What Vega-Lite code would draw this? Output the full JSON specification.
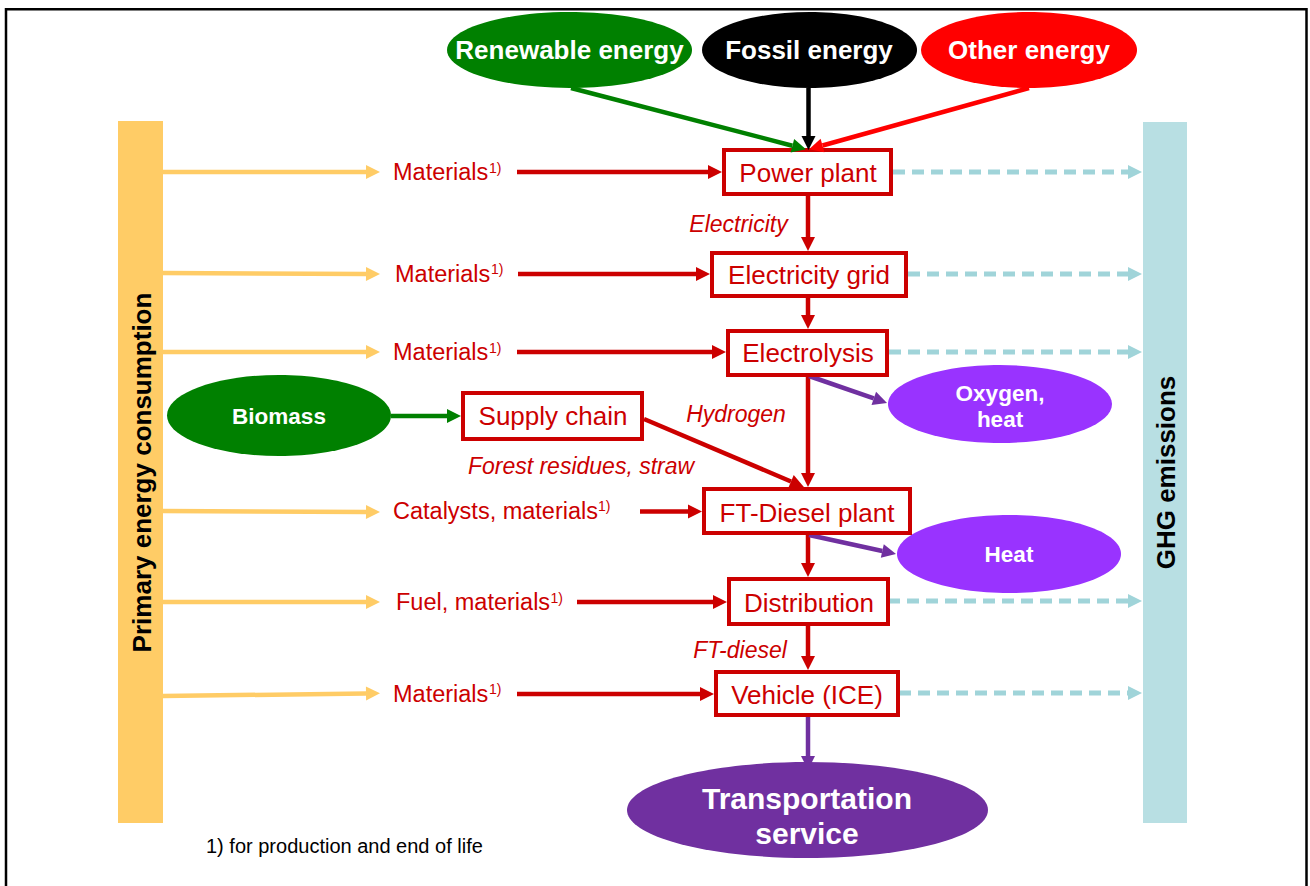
{
  "$schema": "https://vega.github.io/schema/vega-lite/v6.json",
  "width": 1310,
  "height": 886,
  "autosize": {"type": "none"},
  "padding": 0,
  "background": "white",
  "config": {"view": {"stroke": null}, "text": {"font": "Liberation Sans"}},
  "datasets": {
    "bars": [
      {"kind": "input", "x": 118, "x2": 163, "y": 121, "y2": 823},
      {"kind": "ghgbar", "x": 1143, "x2": 1187, "y": 122, "y2": 823}
    ],
    "frame": [{"x": 6, "x2": 1306.5, "y": 9.3, "y2": 900}],
    "edges": [
      {"kind": "renew", "x": 571, "y": 88, "x2": 792.4, "y2": 145.7},
      {"kind": "fossil", "x": 808.5, "y": 88, "x2": 808.5, "y2": 136},
      {"kind": "other", "x": 1029, "y": 88, "x2": 822.5, "y2": 145.5},
      {"kind": "input", "x": 163, "y": 172, "x2": 366, "y2": 172},
      {"kind": "input", "x": 163, "y": 273, "x2": 366, "y2": 274},
      {"kind": "input", "x": 163, "y": 352, "x2": 366, "y2": 352},
      {"kind": "input", "x": 163, "y": 511, "x2": 366, "y2": 512},
      {"kind": "input", "x": 163, "y": 602, "x2": 366, "y2": 602},
      {"kind": "input", "x": 163, "y": 696, "x2": 366, "y2": 693.5},
      {"kind": "flow", "x": 517, "y": 172, "x2": 708, "y2": 172},
      {"kind": "flow", "x": 518, "y": 274, "x2": 696, "y2": 274},
      {"kind": "flow", "x": 517, "y": 352, "x2": 712, "y2": 352},
      {"kind": "flow", "x": 640, "y": 511.5, "x2": 688, "y2": 511.5},
      {"kind": "flow", "x": 577, "y": 602, "x2": 713, "y2": 602},
      {"kind": "flow", "x": 517, "y": 694, "x2": 700, "y2": 694},
      {"kind": "flow", "x": 808, "y": 196, "x2": 808, "y2": 237},
      {"kind": "flow", "x": 808, "y": 298, "x2": 808, "y2": 315},
      {"kind": "flow", "x": 808, "y": 377, "x2": 808, "y2": 473},
      {"kind": "flow", "x": 808, "y": 535, "x2": 808, "y2": 563},
      {"kind": "flow", "x": 808, "y": 626, "x2": 808, "y2": 656},
      {"kind": "flow", "x": 644, "y": 419, "x2": 791, "y2": 481.5},
      {"kind": "renew", "x": 391, "y": 416, "x2": 447, "y2": 416},
      {"kind": "product", "x": 809, "y": 376, "x2": 873.8, "y2": 398.4},
      {"kind": "product", "x": 809, "y": 535, "x2": 882.3, "y2": 551},
      {"kind": "product", "x": 808, "y": 717, "x2": 808, "y2": 756},
      {"kind": "emission", "x": 893, "y": 172, "x2": 1128, "y2": 172},
      {"kind": "emission", "x": 908, "y": 274, "x2": 1128, "y2": 274},
      {"kind": "emission", "x": 889, "y": 352, "x2": 1128, "y2": 352},
      {"kind": "emission", "x": 888, "y": 601, "x2": 1128, "y2": 601},
      {"kind": "emission", "x": 899, "y": 693, "x2": 1128, "y2": 693}
    ],
    "nodes": [
      {"name": "Renewable energy", "kind": "renew", "x": 569.5, "y": 50},
      {"name": "Fossil energy", "kind": "fossil", "x": 809.5, "y": 50},
      {"name": "Other energy", "kind": "other", "x": 1029, "y": 50},
      {"name": "Biomass", "kind": "renew", "x": 279, "y": 415.5},
      {"name": "Oxygen, heat", "kind": "byproduct", "x": 1000, "y": 404},
      {"name": "Heat", "kind": "byproduct", "x": 1009, "y": 554},
      {"name": "Transportation service", "kind": "product", "x": 807.5, "y": 810}
    ],
    "boxes": [
      {"name": "Power plant", "x": 724, "x2": 891, "y": 150, "y2": 194},
      {"name": "Electricity grid", "x": 712, "x2": 906, "y": 253, "y2": 296},
      {"name": "Electrolysis", "x": 728, "x2": 887, "y": 331, "y2": 375},
      {"name": "Supply chain", "x": 463, "x2": 642, "y": 393, "y2": 439},
      {"name": "FT-Diesel plant", "x": 704, "x2": 910, "y": 489, "y2": 533},
      {"name": "Distribution", "x": 729, "x2": 888, "y": 579, "y2": 624},
      {"name": "Vehicle (ICE)", "x": 716, "x2": 898, "y": 672, "y2": 715}
    ],
    "labels": [
      {"role": "top", "text": "Renewable energy", "x": 569.5, "y": 51},
      {"role": "top", "text": "Fossil energy", "x": 809, "y": 51},
      {"role": "top", "text": "Other energy", "x": 1029, "y": 51},
      {"role": "node", "text": "Biomass", "x": 279, "y": 416.5},
      {"role": "node", "text": "Oxygen,", "x": 1000, "y": 393.5},
      {"role": "node", "text": "heat", "x": 1000, "y": 420},
      {"role": "node", "text": "Heat", "x": 1009, "y": 555},
      {"role": "service", "text": "Transportation", "x": 807, "y": 799.5},
      {"role": "service", "text": "service", "x": 807, "y": 835},
      {"role": "box", "text": "Power plant", "x": 808, "y": 174},
      {"role": "box", "text": "Electricity grid", "x": 809, "y": 276},
      {"role": "box", "text": "Electrolysis", "x": 808, "y": 354},
      {"role": "box", "text": "Supply chain", "x": 553, "y": 417},
      {"role": "box", "text": "FT-Diesel plant", "x": 807, "y": 514},
      {"role": "box", "text": "Distribution", "x": 809, "y": 604},
      {"role": "box", "text": "Vehicle (ICE)", "x": 807, "y": 695.5},
      {"role": "input", "text": "Materials", "x": 393, "y": 173},
      {"role": "input", "text": "Materials", "x": 395, "y": 275},
      {"role": "input", "text": "Materials", "x": 393, "y": 353},
      {"role": "input", "text": "Catalysts, materials", "x": 393, "y": 511.5},
      {"role": "input", "text": "Fuel, materials", "x": 396, "y": 603},
      {"role": "input", "text": "Materials", "x": 393, "y": 695},
      {"role": "sup", "text": "1)", "x": 489, "y": 168.6},
      {"role": "sup", "text": "1)", "x": 491, "y": 270.3},
      {"role": "sup", "text": "1)", "x": 489, "y": 348.6},
      {"role": "sup", "text": "1)", "x": 598, "y": 506.9},
      {"role": "sup", "text": "1)", "x": 550.5, "y": 598.6},
      {"role": "sup", "text": "1)", "x": 489, "y": 690.3},
      {"role": "flow", "text": "Electricity", "x": 738.5, "y": 225},
      {"role": "flow", "text": "Hydrogen", "x": 736, "y": 415},
      {"role": "flow", "text": "Forest residues, straw", "x": 581, "y": 466.5},
      {"role": "flow", "text": "FT-diesel", "x": 740, "y": 650.5},
      {"role": "side", "text": "Primary energy consumption", "x": 142.5, "y": 472.5},
      {"role": "side", "text": "GHG emissions", "x": 1166.5, "y": 472.5},
      {"role": "note", "text": "1) for production and end of life", "x": 206, "y": 847}
    ]
  },
  "encoding": {
    "x": {"field": "x", "type": "quantitative", "scale": {"domain": [0, 1310], "nice": false, "zero": false}, "axis": null},
    "y": {"field": "y", "type": "quantitative", "scale": {"domain": [0, 886], "nice": false, "zero": false, "reverse": true}, "axis": null}
  },
  "layer": [
    {
      "data": {"name": "bars"},
      "mark": {"type": "rect"},
      "encoding": {
        "x2": {"field": "x2"},
        "y2": {"field": "y2"},
        "color": {"field": "kind", "type": "nominal", "legend": null,
          "scale": {"domain": ["flow", "other", "renew", "fossil", "input", "emission", "product", "byproduct", "ghgbar"],
                    "range": ["#CC0000", "#FF0000", "#008000", "#000000", "#FFCC66", "#A0D4D9", "#7030A0", "#9933FF", "#B8DFE3"]}}
      }
    },
    {
      "data": {"name": "frame"},
      "mark": {"type": "rect", "fill": "transparent", "stroke": "black", "strokeWidth": 2.5},
      "encoding": {"x2": {"field": "x2"}, "y2": {"field": "y2"}}
    },
    {
      "data": {"name": "edges"},
      "transform": [{"filter": "datum.kind != 'emission'"}],
      "mark": {"type": "rule", "strokeWidth": 4.5, "strokeCap": "butt"},
      "encoding": {
        "x2": {"field": "x2"},
        "y2": {"field": "y2"},
        "color": {"field": "kind", "type": "nominal", "legend": null,
          "scale": {"domain": ["flow", "other", "renew", "fossil", "input", "emission", "product", "byproduct", "ghgbar"],
                    "range": ["#CC0000", "#FF0000", "#008000", "#000000", "#FFCC66", "#A0D4D9", "#7030A0", "#9933FF", "#B8DFE3"]}}
      }
    },
    {
      "data": {"name": "edges"},
      "transform": [{"filter": "datum.kind == 'emission'"}],
      "mark": {"type": "rule", "strokeWidth": 5, "strokeCap": "butt", "strokeDash": [12, 7]},
      "encoding": {
        "x2": {"field": "x2"},
        "y2": {"field": "y2"},
        "color": {"field": "kind", "type": "nominal", "legend": null,
          "scale": {"domain": ["flow", "other", "renew", "fossil", "input", "emission", "product", "byproduct", "ghgbar"],
                    "range": ["#CC0000", "#FF0000", "#008000", "#000000", "#FFCC66", "#A0D4D9", "#7030A0", "#9933FF", "#B8DFE3"]}}
      }
    },
    {
      "data": {"name": "nodes"},
      "mark": {"type": "point", "filled": true, "opacity": 1, "size": 4, "strokeWidth": 0},
      "encoding": {
        "shape": {"field": "name", "type": "nominal", "legend": null,
          "scale": {"domain": ["Renewable energy", "Fossil energy", "Other energy", "Biomass", "Oxygen, heat", "Heat", "Transportation service"],
                    "range": [
                      "M-122.5,0A122.5,38 0 1,1 122.5,0A122.5,38 0 1,1 -122.5,0Z",
                      "M-107.5,0A107.5,38 0 1,1 107.5,0A107.5,38 0 1,1 -107.5,0Z",
                      "M-108,0A108,38 0 1,1 108,0A108,38 0 1,1 -108,0Z",
                      "M-112,0A112,40.5 0 1,1 112,0A112,40.5 0 1,1 -112,0Z",
                      "M-112,0A112,39 0 1,1 112,0A112,39 0 1,1 -112,0Z",
                      "M-112,0A112,39 0 1,1 112,0A112,39 0 1,1 -112,0Z",
                      "M-180.5,0A180.5,48 0 1,1 180.5,0A180.5,48 0 1,1 -180.5,0Z"
                    ]}},
        "color": {"field": "kind", "type": "nominal", "legend": null,
          "scale": {"domain": ["flow", "other", "renew", "fossil", "input", "emission", "product", "byproduct", "ghgbar"],
                    "range": ["#CC0000", "#FF0000", "#008000", "#000000", "#FFCC66", "#A0D4D9", "#7030A0", "#9933FF", "#B8DFE3"]}}
      }
    },
    {
      "data": {"name": "boxes"},
      "mark": {"type": "rect", "fill": "white", "stroke": "#CC0000", "strokeWidth": 4},
      "encoding": {"x2": {"field": "x2"}, "y2": {"field": "y2"}}
    },
    {
      "data": {"name": "edges"},
      "transform": [{"calculate": "atan2(datum.x2 - datum.x, datum.y - datum.y2) * 180 / PI", "as": "ang"}],
      "mark": {"type": "point", "shape": "M0,-14L-7,0L7,0Z", "size": 4, "filled": true, "opacity": 1, "strokeWidth": 0},
      "encoding": {
        "x": {"field": "x2", "type": "quantitative", "scale": {"domain": [0, 1310], "nice": false, "zero": false}, "axis": null},
        "y": {"field": "y2", "type": "quantitative", "scale": {"domain": [0, 886], "nice": false, "zero": false, "reverse": true}, "axis": null},
        "angle": {"field": "ang", "type": "quantitative", "scale": null},
        "color": {"field": "kind", "type": "nominal", "legend": null,
          "scale": {"domain": ["flow", "other", "renew", "fossil", "input", "emission", "product", "byproduct", "ghgbar"],
                    "range": ["#CC0000", "#FF0000", "#008000", "#000000", "#FFCC66", "#A0D4D9", "#7030A0", "#9933FF", "#B8DFE3"]}}
      }
    },
    {
      "data": {"name": "labels"},
      "transform": [{"filter": "datum.role == 'top'"}],
      "mark": {"type": "text", "fill": "white", "fontWeight": "bold", "fontSize": 26, "align": "center", "baseline": "middle"},
      "encoding": {"text": {"field": "text"}}
    },
    {
      "data": {"name": "labels"},
      "transform": [{"filter": "datum.role == 'node'"}],
      "mark": {"type": "text", "fill": "white", "fontWeight": "bold", "fontSize": 22.5, "align": "center", "baseline": "middle"},
      "encoding": {"text": {"field": "text"}}
    },
    {
      "data": {"name": "labels"},
      "transform": [{"filter": "datum.role == 'service'"}],
      "mark": {"type": "text", "fill": "white", "fontWeight": "bold", "fontSize": 30, "align": "center", "baseline": "middle"},
      "encoding": {"text": {"field": "text"}}
    },
    {
      "data": {"name": "labels"},
      "transform": [{"filter": "datum.role == 'box'"}],
      "mark": {"type": "text", "fill": "#CC0000", "fontSize": 26, "align": "center", "baseline": "middle"},
      "encoding": {"text": {"field": "text"}}
    },
    {
      "data": {"name": "labels"},
      "transform": [{"filter": "datum.role == 'input'"}],
      "mark": {"type": "text", "fill": "#CC0000", "fontSize": 23.5, "align": "left", "baseline": "middle"},
      "encoding": {"text": {"field": "text"}}
    },
    {
      "data": {"name": "labels"},
      "transform": [{"filter": "datum.role == 'sup'"}],
      "mark": {"type": "text", "fill": "#CC0000", "fontSize": 14, "align": "left", "baseline": "middle"},
      "encoding": {"text": {"field": "text"}}
    },
    {
      "data": {"name": "labels"},
      "transform": [{"filter": "datum.role == 'flow'"}],
      "mark": {"type": "text", "fill": "#CC0000", "fontSize": 23, "fontStyle": "italic", "align": "center", "baseline": "middle"},
      "encoding": {"text": {"field": "text"}}
    },
    {
      "data": {"name": "labels"},
      "transform": [{"filter": "datum.role == 'side'"}],
      "mark": {"type": "text", "fill": "black", "fontWeight": "bold", "fontSize": 26, "angle": 270, "align": "center", "baseline": "middle"},
      "encoding": {"text": {"field": "text"}}
    },
    {
      "data": {"name": "labels"},
      "transform": [{"filter": "datum.role == 'note'"}],
      "mark": {"type": "text", "fill": "black", "fontSize": 20, "align": "left", "baseline": "middle"},
      "encoding": {"text": {"field": "text"}}
    }
  ]
}
